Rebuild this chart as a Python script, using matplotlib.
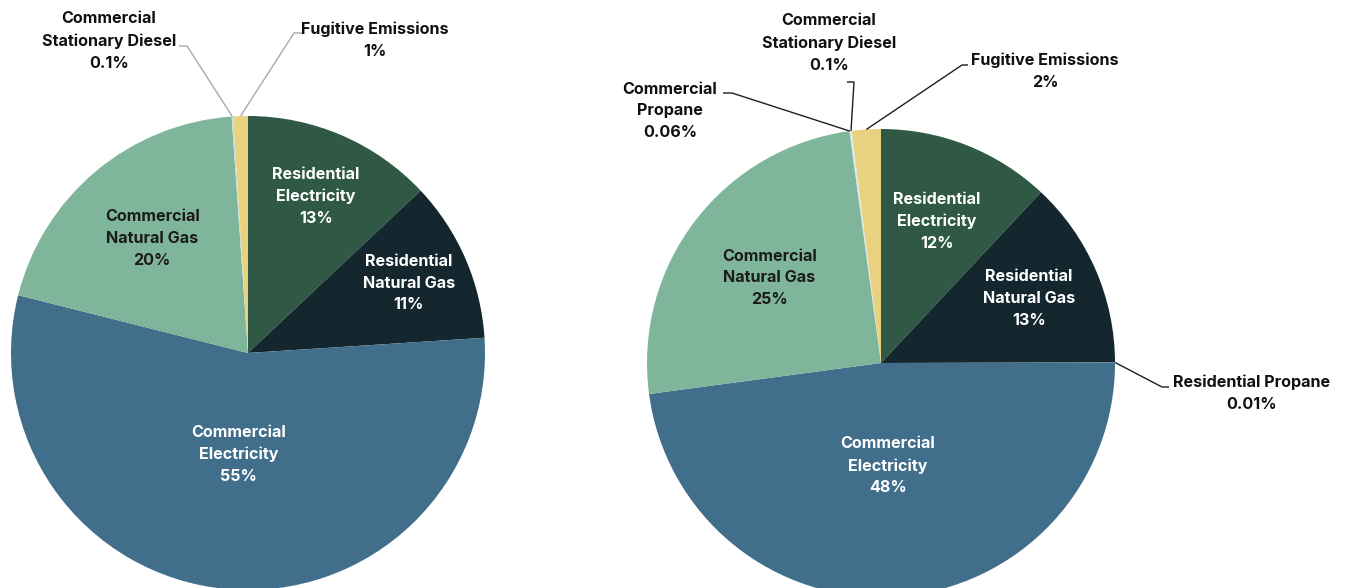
import numpy as np
import matplotlib
matplotlib.use("Agg")
import matplotlib.pyplot as plt

W, H = 1347, 588
DPI = 100

# ---- data -------------------------------------------------------------
left_labels = ["Residential\nElectricity", "Residential\nNatural Gas",
               "Commercial\nElectricity", "Commercial\nNatural Gas",
               "Commercial\nStationary Diesel", "Fugitive Emissions"]
left_values = [13, 11, 55, 20, 0.1, 1]

right_labels = ["Residential\nElectricity", "Residential\nNatural Gas",
                "Residential Propane", "Commercial\nElectricity",
                "Commercial\nNatural Gas", "Commercial\nPropane",
                "Commercial\nStationary Diesel", "Fugitive Emissions"]
right_values = [12, 13, 0.01, 48, 25, 0.06, 0.1, 2]

# ---- styling ----------------------------------------------------------
C_RES_ELEC = "#2f5845"
C_RES_NG = "#14262e"
C_COM_ELEC = "#406e8b"
C_COM_NG = "#7fb59b"
C_SMALL = "#c4dedd"
C_FUG = "#e8d27f"

left_colors = [C_RES_ELEC, C_RES_NG, C_COM_ELEC, C_COM_NG, C_SMALL, C_FUG]
right_colors = [C_RES_ELEC, C_RES_NG, "#6f8f9f", C_COM_ELEC, C_COM_NG,
                C_SMALL, "#d7e9e8", C_FUG]

FONT = "Inter"
FS = 11.6
LS = 1.56

plt.rcParams["font.family"] = [FONT, "DejaVu Sans"]

fig = plt.figure(figsize=(W / DPI, H / DPI), dpi=DPI)
ax = fig.add_axes([0, 0, 1, 1])


def py(y):
    """Convert a top-down pixel row to the axes' bottom-up coordinate."""
    return H - y


def draw_pie(values, colors, center, radius):
    ax.pie(values, colors=colors, center=(center[0], py(center[1])),
           radius=radius, startangle=90, counterclock=False,
           wedgeprops=dict(linewidth=0, edgecolor="none"))
    total = float(sum(values))
    cum = np.cumsum([0] + list(values))[:-1] / total
    mids = 90 - 360 * (cum + np.asarray(values) / total / 2)
    return np.deg2rad(mids)


def text_of(name, value):
    return f"{name}\n{value:g}%"


def inside(name, value, ang, dist, center, radius, color="white"):
    x = center[0] + radius * dist * np.cos(ang)
    y = py(center[1]) + radius * dist * np.sin(ang)
    ax.text(x, y, text_of(name, value), ha="center", va="center",
            fontsize=FS, fontweight="bold", color=color, linespacing=LS)


def outside(name, value, ang, center, radius, text_xy, elbow, lc):
    ax.text(text_xy[0], py(text_xy[1]), text_of(name, value), ha="center",
            va="center", fontsize=FS, fontweight="bold", color="#111111",
            linespacing=LS)
    ex = center[0] + radius * np.cos(ang)
    ey = py(center[1]) + radius * np.sin(ang)
    xs = [elbow[0][0], elbow[1][0], ex]
    ys = [py(elbow[0][1]), py(elbow[1][1]), ey]
    ax.plot(xs, ys, color=lc, lw=1.0, solid_capstyle="butt", zorder=3)


# ---- left pie ---------------------------------------------------------
LC, LR = (248, 353), 237
la = draw_pie(left_values, left_colors, LC, LR)
for i, d in zip(range(4), [0.72, 0.74, 0.43, 0.63]):
    inside(left_labels[i], left_values[i], la[i], d, LC, LR,
           color="#1b1b1b" if i == 3 else "white")
outside(left_labels[4], left_values[4], la[4], LC, LR, (109, 41),
        [(179, 46), (187, 46)], "#a9a9a9")
outside(left_labels[5], left_values[5], la[5], LC, LR, (375, 40.5),
        [(302, 33), (294, 33)], "#a9a9a9")

# ---- right pie --------------------------------------------------------
RC, RR = (881, 363), 234
ra = draw_pie(right_values, right_colors, RC, RR)
for i, d in zip([0, 1, 3, 4], [0.65, 0.69, 0.44, 0.60]):
    inside(right_labels[i], right_values[i], ra[i], d, RC, RR,
           color="#1b1b1b" if i == 4 else "white")
outside(right_labels[2], right_values[2], ra[2], RC, RR, (1252, 393.5),
        [(1169, 387), (1162, 387)], "#1e1e1e")
outside(right_labels[5], right_values[5], ra[5], RC, RR, (670, 111),
        [(723, 93), (732, 93)], "#1e1e1e")
outside(right_labels[6], right_values[6], ra[6], RC, RR, (829, 43),
        [(847, 82), (854, 82)], "#1e1e1e")
outside(right_labels[7], right_values[7], ra[7], RC, RR, (1045, 71.5),
        [(968, 65), (962, 65)], "#1e1e1e")

ax.set_xlim(0, W)
ax.set_ylim(0, H)
ax.set_aspect("equal", adjustable="box")
ax.axis("off")

fig.savefig("out.png", dpi=DPI, facecolor="white")
